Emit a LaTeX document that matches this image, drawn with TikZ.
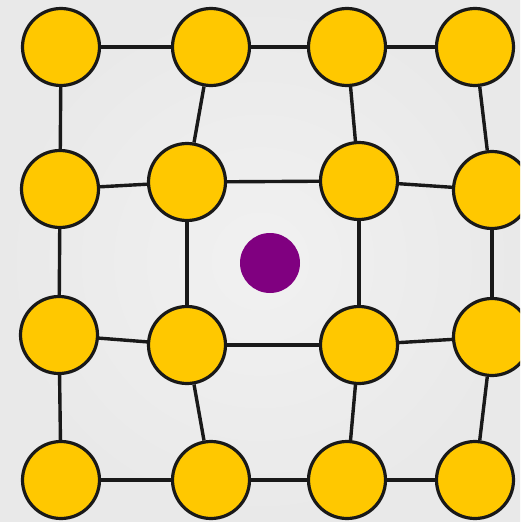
\documentclass[tikz,border=0pt]{standalone}
\usetikzlibrary{shadings}
\definecolor{bgc}{HTML}{E9E9E9}
\definecolor{bgl}{HTML}{F1F1F1}
\definecolor{nodey}{HTML}{FFC800}
\definecolor{purp}{HTML}{800080}
\tikzset{
  vert/.style={circle, draw=black!90, line width=3.2pt, fill=nodey, minimum size=77pt, inner sep=0pt},
  edge/.style={line width=3.4pt, black!90},
  centre/.style={circle, fill=purp, minimum size=60pt, inner sep=0pt}
}
\begin{document}
\begin{tikzpicture}[x=1pt,y=-1pt]
\useasboundingbox (0,0) rectangle (520,522);
\clip (0,0) rectangle (520,522);
\shade[inner color=bgl, outer color=bgc] (0,0) rectangle (520,522);
% row 1
\node[vert] (n11) at (61,47) {};
\node[vert] (n12) at (211,47) {};
\node[vert] (n13) at (347,47) {};
\node[vert] (n14) at (475,47) {};
% row 2
\node[vert] (n21) at (60,189) {};
\node[vert] (n22) at (187,182) {};
\node[vert] (n23) at (359,181) {};
\node[vert] (n24) at (492,190) {};
% row 3
\node[vert] (n31) at (59,335) {};
\node[vert] (n32) at (187,345) {};
\node[vert] (n33) at (359,345) {};
\node[vert] (n34) at (492,337) {};
% row 4
\node[vert] (n41) at (61,480) {};
\node[vert] (n42) at (211,480) {};
\node[vert] (n43) at (347,480) {};
\node[vert] (n44) at (475,480) {};
\node[centre] (c) at (270,263) {};
\foreach \r in {1,2,3,4}{
  \draw[edge] (n\r1) -- (n\r2);
  \draw[edge] (n\r2) -- (n\r3);
  \draw[edge] (n\r3) -- (n\r4);
}
\foreach \c in {1,2,3,4}{
  \draw[edge] (n1\c) -- (n2\c);
  \draw[edge] (n2\c) -- (n3\c);
  \draw[edge] (n3\c) -- (n4\c);
}
\end{tikzpicture}
\end{document}
